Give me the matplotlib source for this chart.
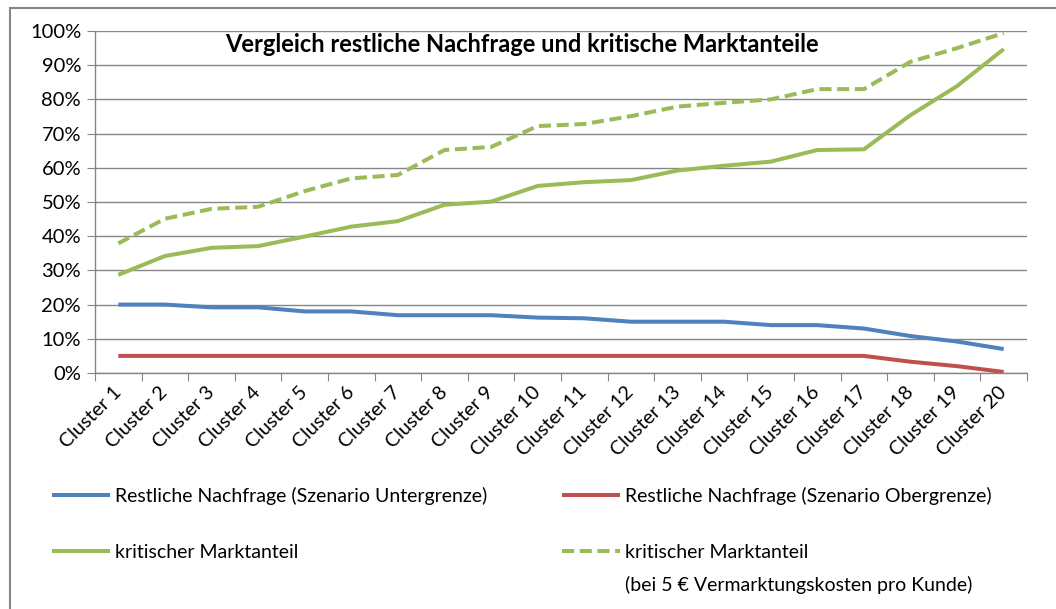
import matplotlib
matplotlib.use("Agg")
import matplotlib.pyplot as plt
from matplotlib.patches import Rectangle
from matplotlib.ticker import FixedLocator, PercentFormatter

plt.rcParams['font.family'] = ['Lato', 'DejaVu Sans']

categories = [f"Cluster {i}" for i in range(1, 21)]
rest_unter = [20, 20, 19.2, 19.2, 18, 18, 16.9, 16.9, 16.9, 16.2, 16, 15, 15, 15, 14, 14, 13, 10.8, 9.2, 7]
rest_ober = [5, 5, 5, 5, 5, 5, 5, 5, 5, 5, 5, 5, 5, 5, 5, 5, 5, 3.3, 2, 0.3]
krit = [28.7, 34.2, 36.6, 37.1, 39.9, 42.8, 44.4, 49.2, 50.1, 54.7, 55.8, 56.4, 59.2, 60.6, 61.8, 65.2, 65.4, 75.4, 83.9, 94.7]
krit_5eur = [37.9, 45.1, 48, 48.6, 53.2, 56.9, 57.9, 65.2, 66.1, 72.2, 72.8, 75.1, 77.9, 79, 80, 83, 83, 91, 95, 99.4]
yticks = list(range(0, 101, 10))

labels = ["Restliche Nachfrage (Szenario Untergrenze)",
          "Restliche Nachfrage (Szenario Obergrenze)",
          "kritischer Marktanteil",
          "kritischer Marktanteil"]
label_extra = "(bei 5 € Vermarktungskosten pro Kunde)"
title = "Vergleich restliche Nachfrage und kritische Marktanteile"

blue = "#4F81BD"
red = "#C0504D"
green = "#9BBB59"
grid_c = "#868686"

W, H = 1056, 609
fig = plt.figure(figsize=(W / 100, H / 100), dpi=100)
ax = fig.add_axes([95 / W, 1 - 373 / H, (1027 - 95) / W, (373 - 31) / H])

x = list(range(len(categories)))
lw = 2.9
l1, = ax.plot(x, rest_unter, color=blue, lw=lw, solid_capstyle='butt')
l2, = ax.plot(x, rest_ober, color=red, lw=lw, solid_capstyle='butt')
l3, = ax.plot(x, krit, color=green, lw=lw, solid_capstyle='butt')
l4, = ax.plot(x, krit_5eur, color=green, lw=lw, dashes=(3.0, 1.4), dash_capstyle='butt')

ax.set_xlim(-0.5, len(categories) - 0.5)
ax.set_ylim(0, 100)
ax.yaxis.set_major_locator(FixedLocator(yticks))
ax.yaxis.set_major_formatter(PercentFormatter(decimals=0))
ax.grid(axis='y', color=grid_c, lw=1)
ax.set_axisbelow(True)
for s in ['top', 'right']:
    ax.spines[s].set_visible(False)
for s in ['left', 'bottom']:
    ax.spines[s].set_color(grid_c)
    ax.spines[s].set_linewidth(1)

ax.set_xticks([i - 0.5 for i in range(len(categories) + 1)], minor=False)
ax.set_xticklabels([])
ax.set_xticks(x, minor=True)
ax.set_xticklabels(categories, minor=True, rotation=45, ha='right', va='center',
                   rotation_mode='anchor', fontsize=14.2)
ax.tick_params(axis='x', which='minor', length=0, pad=12)
ax.tick_params(axis='x', which='major', length=6, color=grid_c, direction='out')
ax.tick_params(axis='y', length=6, color=grid_c, labelsize=14.5, pad=4)

fig.text(522 / W, 1 - 45 / H, title, ha='center', va='center',
         fontsize=17, fontweight='bold', color='black')

leg_kw = dict(frameon=False, fontsize=14, handlelength=3.0, handletextpad=0.25,
              labelspacing=2.0, borderpad=0, borderaxespad=0, loc='upper left')
leg1 = fig.legend([l1, l3], [labels[0], labels[2]],
                  bbox_to_anchor=(52 / W, 1 - 487 / H), **leg_kw)
leg2 = fig.legend([l2, l4], [labels[1], labels[3]],
                  bbox_to_anchor=(562 / W, 1 - 487 / H), **leg_kw)
fig.text(625 / W, 1 - 585 / H, label_extra, fontsize=14, ha='left', va='center')

fig.add_artist(Rectangle((9.5 / W, -0.1), 1.2, 1.1 - 7.5 / H, transform=fig.transFigure,
                         fill=False, edgecolor=grid_c, lw=1.5, clip_on=False))

fig.savefig("out.png", dpi=100)
